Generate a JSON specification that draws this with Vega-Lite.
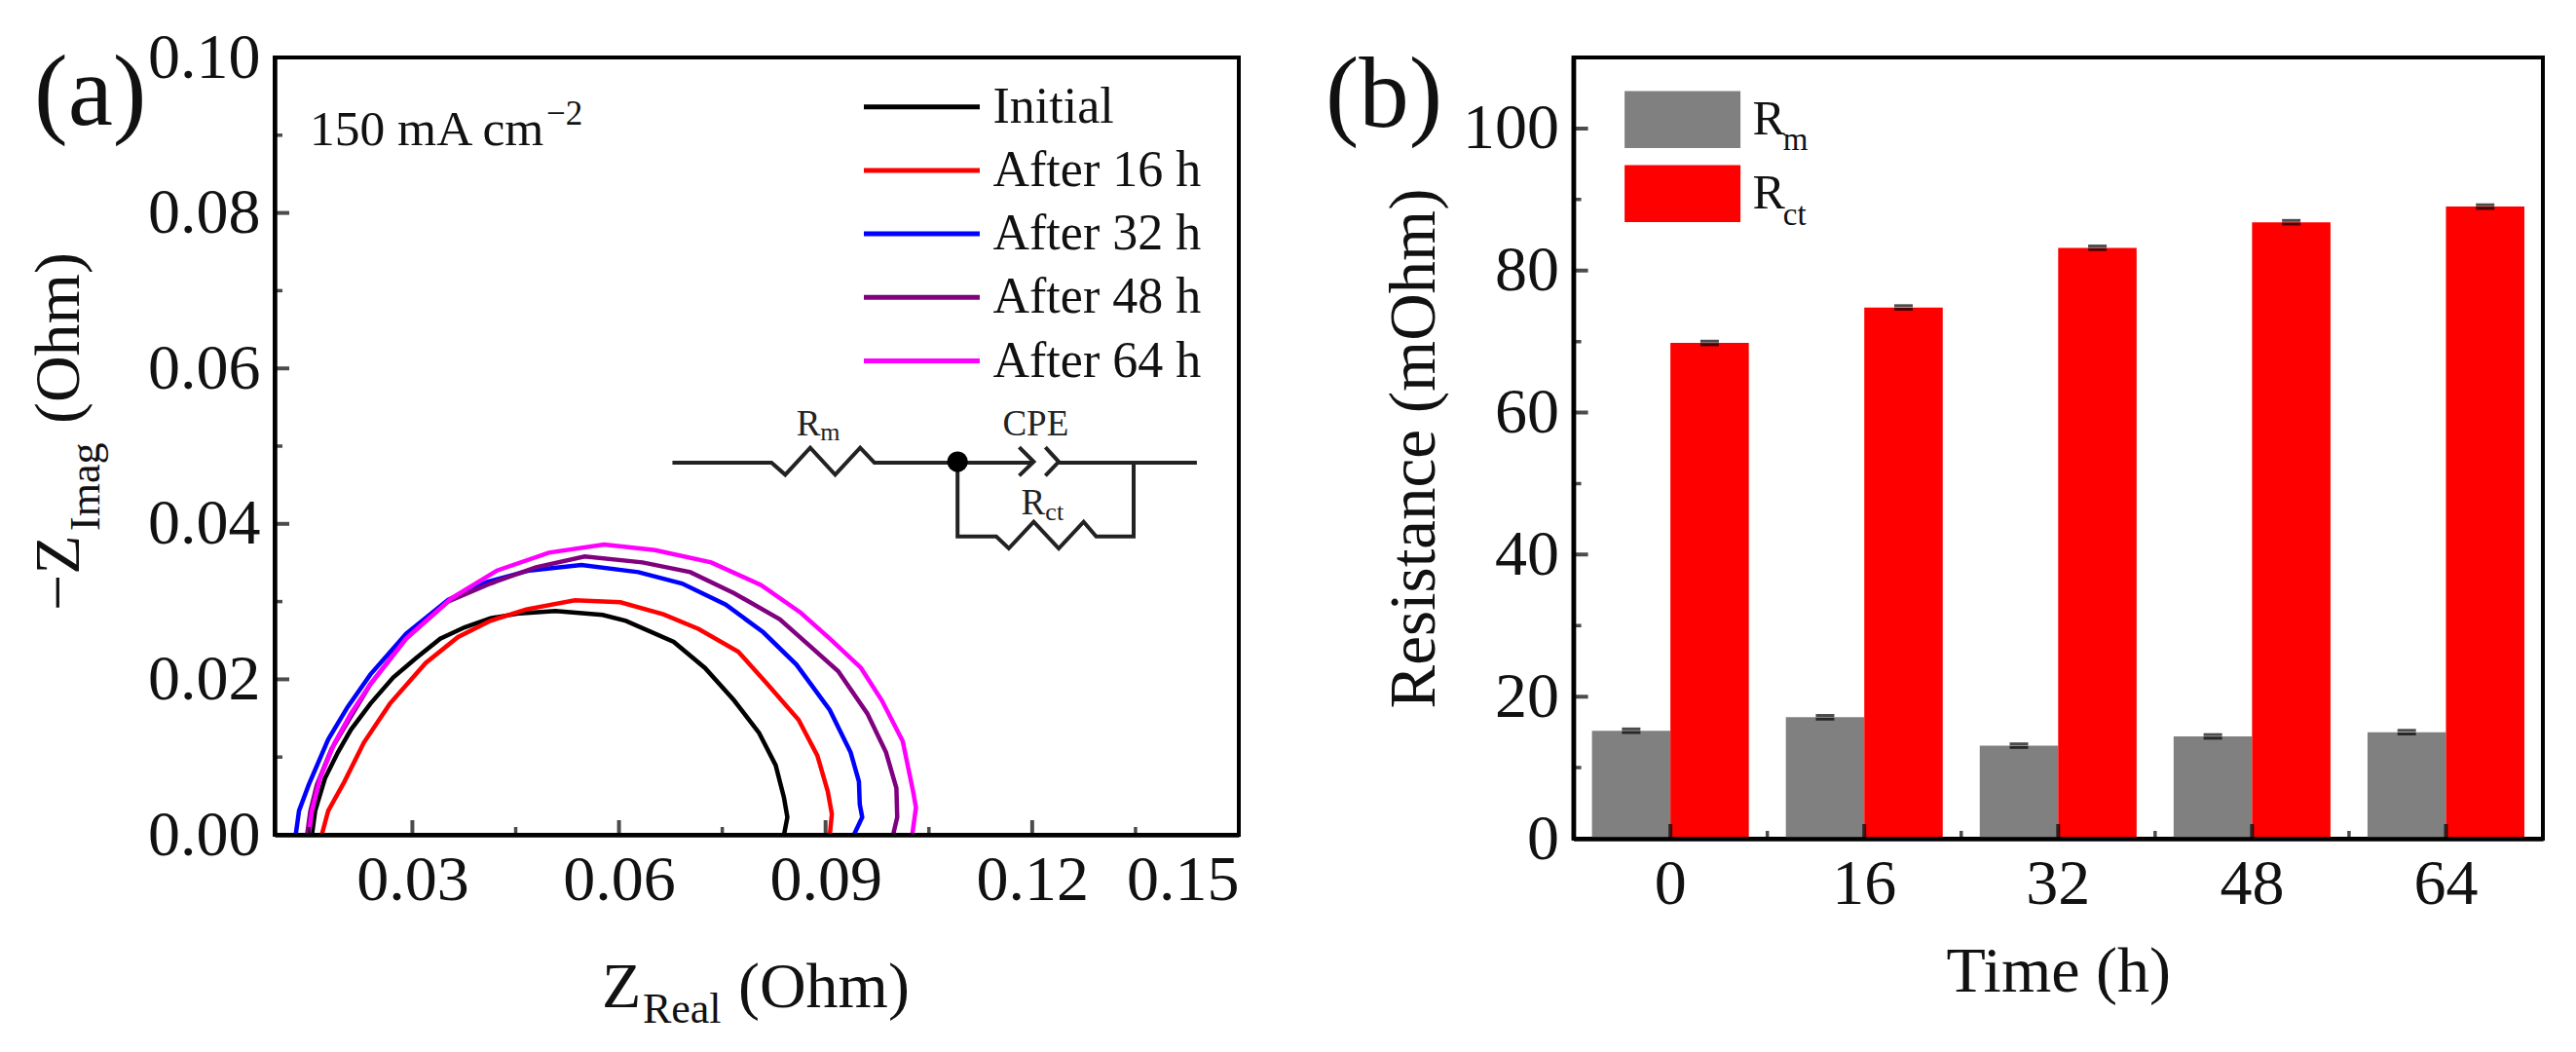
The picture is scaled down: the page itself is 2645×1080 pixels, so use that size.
{"$schema":"https://vega.github.io/schema/vega-lite/v6.json","background":"white","padding":{"left":26,"top":24,"right":0,"bottom":0},"bounds":"flush","spacing":343.6,"resolve":{"scale":{"color":"independent"},"legend":{"color":"independent"}},"config":{"font":"Liberation Serif","axis":{"grid":false,"domainColor":"black","domainWidth":4.5,"ticks":false,"tickSize":0,"labelColor":"#111","labelFont":"Liberation Serif","labelFontSize":66,"titleFont":"Liberation Serif","titleColor":"#111","titleFontWeight":"normal"},"legend":{"labelFont":"Liberation Serif","labelColor":"#111"},"view":{"stroke":"black","strokeWidth":4}},"hconcat":[{"width":990,"height":798,"encoding":{"x":{"field":"x","type":"quantitative","scale":{"domain":[0.01,0.15]},"axis":{"values":[0.03,0.06,0.09,0.12,0.15],"format":".2f","title":null,"labelPadding":14,"zindex":1}},"y":{"field":"y","type":"quantitative","scale":{"domain":[0,0.1]},"axis":{"values":[0,0.02,0.04,0.06,0.08,0.1],"format":".2f","title":null,"labelPadding":15,"zindex":1}}},"layer":[{"data":{"values":[{"s":"Initial","i":0,"x":0.01542,"y":0},{"s":"Initial","i":1,"x":0.01589,"y":0.00309},{"s":"Initial","i":2,"x":0.01731,"y":0.00727},{"s":"Initial","i":3,"x":0.01919,"y":0.01061},{"s":"Initial","i":4,"x":0.02108,"y":0.01353},{"s":"Initial","i":5,"x":0.02391,"y":0.01687},{"s":"Initial","i":6,"x":0.02721,"y":0.02022},{"s":"Initial","i":7,"x":0.03051,"y":0.02272},{"s":"Initial","i":8,"x":0.03404,"y":0.02523},{"s":"Initial","i":9,"x":0.03758,"y":0.02669},{"s":"Initial","i":10,"x":0.04135,"y":0.02786},{"s":"Initial","i":11,"x":0.04559,"y":0.02849},{"s":"Initial","i":12,"x":0.05078,"y":0.02878},{"s":"Initial","i":13,"x":0.05761,"y":0.02828},{"s":"Initial","i":14,"x":0.061,"y":0.02752},{"s":"Initial","i":15,"x":0.06795,"y":0.02481},{"s":"Initial","i":16,"x":0.07248,"y":0.02147},{"s":"Initial","i":17,"x":0.07671,"y":0.01729},{"s":"Initial","i":18,"x":0.08034,"y":0.01311},{"s":"Initial","i":19,"x":0.08275,"y":0.00894},{"s":"Initial","i":20,"x":0.08396,"y":0.00476},{"s":"Initial","i":21,"x":0.08445,"y":0.00225},{"s":"Initial","i":22,"x":0.08396,"y":0},{"s":"After 16 h","i":0,"x":0.01684,"y":0},{"s":"After 16 h","i":1,"x":0.01778,"y":0.00309},{"s":"After 16 h","i":2,"x":0.02014,"y":0.00685},{"s":"After 16 h","i":3,"x":0.02296,"y":0.01186},{"s":"After 16 h","i":4,"x":0.02674,"y":0.01687},{"s":"After 16 h","i":5,"x":0.03192,"y":0.0221},{"s":"After 16 h","i":6,"x":0.03663,"y":0.02544},{"s":"After 16 h","i":7,"x":0.04135,"y":0.02753},{"s":"After 16 h","i":8,"x":0.04653,"y":0.02899},{"s":"After 16 h","i":9,"x":0.0536,"y":0.03016},{"s":"After 16 h","i":10,"x":0.0602,"y":0.02991},{"s":"After 16 h","i":11,"x":0.06644,"y":0.02836},{"s":"After 16 h","i":12,"x":0.07157,"y":0.02648},{"s":"After 16 h","i":13,"x":0.07731,"y":0.02356},{"s":"After 16 h","i":14,"x":0.08154,"y":0.01938},{"s":"After 16 h","i":15,"x":0.08608,"y":0.01478},{"s":"After 16 h","i":16,"x":0.0888,"y":0.01019},{"s":"After 16 h","i":17,"x":0.09031,"y":0.0056},{"s":"After 16 h","i":18,"x":0.09091,"y":0.00267},{"s":"After 16 h","i":19,"x":0.09061,"y":0},{"s":"After 32 h","i":0,"x":0.01306,"y":0},{"s":"After 32 h","i":1,"x":0.01354,"y":0.00309},{"s":"After 32 h","i":2,"x":0.01495,"y":0.00643},{"s":"After 32 h","i":3,"x":0.01636,"y":0.00936},{"s":"After 32 h","i":4,"x":0.01778,"y":0.01228},{"s":"After 32 h","i":5,"x":0.02061,"y":0.01646},{"s":"After 32 h","i":6,"x":0.02391,"y":0.02063},{"s":"After 32 h","i":7,"x":0.02909,"y":0.02585},{"s":"After 32 h","i":8,"x":0.03522,"y":0.03024},{"s":"After 32 h","i":9,"x":0.04088,"y":0.03254},{"s":"After 32 h","i":10,"x":0.047,"y":0.034},{"s":"After 32 h","i":11,"x":0.05455,"y":0.03471},{"s":"After 32 h","i":12,"x":0.06281,"y":0.03379},{"s":"After 32 h","i":13,"x":0.06916,"y":0.03233},{"s":"After 32 h","i":14,"x":0.0755,"y":0.02961},{"s":"After 32 h","i":15,"x":0.08094,"y":0.02606},{"s":"After 32 h","i":16,"x":0.08577,"y":0.02189},{"s":"After 32 h","i":17,"x":0.09061,"y":0.01604},{"s":"After 32 h","i":18,"x":0.09363,"y":0.01061},{"s":"After 32 h","i":19,"x":0.09484,"y":0.00685},{"s":"After 32 h","i":20,"x":0.09496,"y":0.00392},{"s":"After 32 h","i":21,"x":0.09532,"y":0.00225},{"s":"After 32 h","i":22,"x":0.09411,"y":0},{"s":"After 48 h","i":0,"x":0.01471,"y":0},{"s":"After 48 h","i":1,"x":0.01519,"y":0.00309},{"s":"After 48 h","i":2,"x":0.01613,"y":0.00643},{"s":"After 48 h","i":3,"x":0.01825,"y":0.01103},{"s":"After 48 h","i":4,"x":0.02108,"y":0.0152},{"s":"After 48 h","i":5,"x":0.02391,"y":0.01938},{"s":"After 48 h","i":6,"x":0.02909,"y":0.02523},{"s":"After 48 h","i":7,"x":0.03522,"y":0.03003},{"s":"After 48 h","i":8,"x":0.04135,"y":0.03233},{"s":"After 48 h","i":9,"x":0.04795,"y":0.03442},{"s":"After 48 h","i":10,"x":0.05502,"y":0.0358},{"s":"After 48 h","i":11,"x":0.06341,"y":0.03504},{"s":"After 48 h","i":12,"x":0.07036,"y":0.03379},{"s":"After 48 h","i":13,"x":0.07671,"y":0.03108},{"s":"After 48 h","i":14,"x":0.08336,"y":0.02773},{"s":"After 48 h","i":15,"x":0.08759,"y":0.02439},{"s":"After 48 h","i":16,"x":0.09182,"y":0.02105},{"s":"After 48 h","i":17,"x":0.09605,"y":0.01562},{"s":"After 48 h","i":18,"x":0.09877,"y":0.01061},{"s":"After 48 h","i":19,"x":0.10028,"y":0.00601},{"s":"After 48 h","i":20,"x":0.1004,"y":0.00225},{"s":"After 48 h","i":21,"x":0.0998,"y":0},{"s":"After 64 h","i":0,"x":0.01495,"y":0},{"s":"After 64 h","i":1,"x":0.01542,"y":0.00309},{"s":"After 64 h","i":2,"x":0.0166,"y":0.00727},{"s":"After 64 h","i":3,"x":0.01872,"y":0.01186},{"s":"After 64 h","i":4,"x":0.02108,"y":0.01562},{"s":"After 64 h","i":5,"x":0.02391,"y":0.01938},{"s":"After 64 h","i":6,"x":0.02909,"y":0.02523},{"s":"After 64 h","i":7,"x":0.03569,"y":0.03045},{"s":"After 64 h","i":8,"x":0.04229,"y":0.034},{"s":"After 64 h","i":9,"x":0.04983,"y":0.0363},{"s":"After 64 h","i":10,"x":0.05785,"y":0.03734},{"s":"After 64 h","i":11,"x":0.06523,"y":0.03663},{"s":"After 64 h","i":12,"x":0.07339,"y":0.03504},{"s":"After 64 h","i":13,"x":0.08064,"y":0.03212},{"s":"After 64 h","i":14,"x":0.08638,"y":0.02857},{"s":"After 64 h","i":15,"x":0.09061,"y":0.02523},{"s":"After 64 h","i":16,"x":0.09514,"y":0.02147},{"s":"After 64 h","i":17,"x":0.09816,"y":0.01729},{"s":"After 64 h","i":18,"x":0.10119,"y":0.01207},{"s":"After 64 h","i":19,"x":0.1027,"y":0.0056},{"s":"After 64 h","i":20,"x":0.10312,"y":0.00351},{"s":"After 64 h","i":21,"x":0.10258,"y":0}]},"mark":{"type":"line","strokeWidth":4.5,"interpolate":"linear"},"encoding":{"order":{"field":"i","type":"quantitative"},"color":{"field":"s","type":"nominal","sort":["Initial","After 16 h","After 32 h","After 48 h","After 64 h"],"scale":{"domain":["Initial","After 16 h","After 32 h","After 48 h","After 64 h"],"range":["#000000","#ff0000","#0000ff","#800080","#ff00ff"]},"legend":{"title":null,"orient":"none","legendX":638.5,"legendY":24.7,"symbolType":"M-3,0L3,0","symbolSize":1573,"symbolStrokeWidth":5,"labelFontSize":52,"labelOffset":47,"rowPadding":13.2,"padding":0,"labelLimit":500}}}},{"data":{"values":[{"x":0.01,"y":0.01},{"x":0.01,"y":0.03},{"x":0.01,"y":0.05},{"x":0.01,"y":0.07},{"x":0.01,"y":0.09}]},"mark":{"type":"tick","orient":"horizontal","size":16,"thickness":3.5,"color":"black","clip":true}},{"data":{"values":[{"x":0.01,"y":0.02},{"x":0.01,"y":0.04},{"x":0.01,"y":0.06},{"x":0.01,"y":0.08}]},"mark":{"type":"tick","orient":"horizontal","size":30,"thickness":4,"color":"black","clip":true}},{"data":{"values":[{"x":0.015,"y":0},{"x":0.045,"y":0},{"x":0.075,"y":0},{"x":0.105,"y":0},{"x":0.135,"y":0}]},"mark":{"type":"tick","orient":"vertical","size":16,"thickness":3.5,"color":"black","clip":true}},{"data":{"values":[{"x":0.03,"y":0},{"x":0.06,"y":0},{"x":0.09,"y":0},{"x":0.12,"y":0}]},"mark":{"type":"tick","orient":"vertical","size":30,"thickness":4,"color":"black","clip":true}},{"data":{"values":[{"g":"main1","i":0,"x":0.06776,"y":0.04787},{"g":"main1","i":1,"x":0.08215,"y":0.04787},{"g":"main1","i":2,"x":0.08414,"y":0.04632},{"g":"main1","i":3,"x":0.08777,"y":0.04979},{"g":"main1","i":4,"x":0.09139,"y":0.04632},{"g":"main1","i":5,"x":0.09502,"y":0.04979},{"g":"main1","i":6,"x":0.09708,"y":0.04787},{"g":"main1","i":7,"x":0.11992,"y":0.04787},{"g":"cap1","i":0,"x":0.11811,"y":0.04987},{"g":"cap1","i":1,"x":0.12022,"y":0.04799},{"g":"cap1","i":2,"x":0.11811,"y":0.0462},{"g":"cap2","i":0,"x":0.12191,"y":0.04987},{"g":"cap2","i":1,"x":0.12385,"y":0.04799},{"g":"cap2","i":2,"x":0.12191,"y":0.0462},{"g":"main2","i":0,"x":0.12385,"y":0.04787},{"g":"main2","i":1,"x":0.14391,"y":0.04787},{"g":"branch","i":0,"x":0.10916,"y":0.04799},{"g":"branch","i":1,"x":0.10916,"y":0.03838},{"g":"branch","i":2,"x":0.11478,"y":0.03838},{"g":"branch","i":3,"x":0.1166,"y":0.03684},{"g":"branch","i":4,"x":0.12022,"y":0.04026},{"g":"branch","i":5,"x":0.12385,"y":0.03684},{"g":"branch","i":6,"x":0.12747,"y":0.04026},{"g":"branch","i":7,"x":0.12929,"y":0.03838},{"g":"branch","i":8,"x":0.13473,"y":0.03838},{"g":"branch","i":9,"x":0.13473,"y":0.04787}]},"mark":{"type":"line","strokeWidth":4,"color":"#222"},"encoding":{"detail":{"field":"g","type":"nominal"},"order":{"field":"i","type":"quantitative"}}},{"data":{"values":[{"x":0.10916,"y":0.04799}]},"mark":{"type":"point","filled":true,"size":450,"color":"black","opacity":1}},{"data":{"values":[{"x":-0.02493,"y":0.09135,"t":"(a)"}]},"mark":{"type":"text","fontSize":104,"align":"left","baseline":"alphabetic","color":"#111"},"encoding":{"text":{"field":"t"}}},{"data":{"values":[{"x":0.01509,"y":0.08872,"t":"150 mA cm"}]},"mark":{"type":"text","fontSize":51.5,"align":"left","baseline":"alphabetic","color":"#111"},"encoding":{"text":{"field":"t"}}},{"data":{"values":[{"x":0.04945,"y":0.09135,"t":"−2"}]},"mark":{"type":"text","fontSize":35,"align":"left","baseline":"alphabetic","color":"#111"},"encoding":{"text":{"field":"t"}}},{"data":{"values":[{"x":0.0575,"y":-0.02213,"t":"Z"},{"x":0.07731,"y":-0.02213,"t":"(Ohm)"}]},"mark":{"type":"text","fontSize":66,"align":"left","baseline":"alphabetic","color":"#111"},"encoding":{"text":{"field":"t"}}},{"data":{"values":[{"x":0.06345,"y":-0.02419,"t":"Real"}]},"mark":{"type":"text","fontSize":44,"align":"left","baseline":"alphabetic","color":"#111"},"encoding":{"text":{"field":"t"}}},{"data":{"values":[{"x":-0.01842,"y":0.02882,"t":"−Z"},{"x":-0.01842,"y":0.05288,"t":"(Ohm)"}]},"mark":{"type":"text","fontSize":66,"align":"left","baseline":"alphabetic","angle":270,"color":"#111"},"encoding":{"text":{"field":"t"}}},{"data":{"values":[{"x":-0.01545,"y":0.0391,"t":"Imag"}]},"mark":{"type":"text","fontSize":44,"align":"left","baseline":"alphabetic","angle":270,"color":"#111"},"encoding":{"text":{"field":"t"}}},{"data":{"values":[{"x":0.08577,"y":0.05142,"t":"R"},{"x":0.11569,"y":0.05142,"t":"CPE"},{"x":0.11841,"y":0.04118,"t":"R"}]},"mark":{"type":"text","fontSize":37,"align":"left","baseline":"alphabetic","color":"#222"},"encoding":{"text":{"field":"t"}}},{"data":{"values":[{"x":0.08922,"y":0.05071,"t":"m"},{"x":0.12191,"y":0.04047,"t":"ct"}]},"mark":{"type":"text","fontSize":26,"align":"left","baseline":"alphabetic","color":"#222"},"encoding":{"text":{"field":"t"}}}]},{"width":995.4,"height":802,"resolve":{"scale":{"x":"independent","xOffset":"independent"},"axis":{"x":"independent"}},"encoding":{"y":{"field":"value","type":"quantitative","scale":{"domain":[0,110]},"axis":{"values":[0,20,40,60,80,100],"title":"Resistance (mOhm)","titleFontSize":67,"titlePadding":15,"labelPadding":15,"zindex":1}}},"layer":[{"data":{"name":"bars","values":[{"time":"0","series":"Rm","value":15.2,"low":14.95,"high":15.45},{"time":"16","series":"Rm","value":17.1,"low":16.85,"high":17.35},{"time":"32","series":"Rm","value":13.1,"low":12.85,"high":13.35},{"time":"48","series":"Rm","value":14.4,"low":14.15,"high":14.65},{"time":"64","series":"Rm","value":15.0,"low":14.75,"high":15.25},{"time":"0","series":"Rct","value":69.8,"low":69.55,"high":70.05},{"time":"16","series":"Rct","value":74.8,"low":74.55,"high":75.05},{"time":"32","series":"Rct","value":83.2,"low":82.95,"high":83.45},{"time":"48","series":"Rct","value":86.8,"low":86.55,"high":87.05},{"time":"64","series":"Rct","value":89.0,"low":88.75,"high":89.25}]},"mark":{"type":"bar"},"encoding":{"x":{"field":"time","type":"nominal","sort":["0","16","32","48","64"],"scale":{"domain":["0","16","32","48","64"],"paddingInner":0,"paddingOuter":0},"axis":{"title":"Time (h)","titleFontSize":66,"titlePadding":25,"labelAngle":0,"labelPadding":14,"zindex":1}},"xOffset":{"field":"series","type":"nominal","sort":["Rm","Rct"],"scale":{"domain":["Rm","Rct"],"paddingInner":0,"paddingOuter":0.236}},"color":{"field":"series","type":"nominal","sort":["Rm","Rct"],"scale":{"domain":["Rm","Rct"],"range":["#808080","#ff0000"]},"legend":{"title":null,"orient":"none","legendX":87,"legendY":38.7,"symbolType":"M-3,-1.474L3,-1.474L3,1.474L-3,1.474Z","symbolSize":1573,"symbolStrokeWidth":0,"symbolOpacity":1,"labelFontSize":50,"labelOffset":47,"labelExpr":"'R'","rowPadding":16,"padding":0}}}},{"data":{"name":"bars"},"mark":{"type":"tick","size":19,"thickness":3,"color":"black"},"encoding":{"x":{"field":"time","type":"nominal","sort":["0","16","32","48","64"],"scale":{"domain":["0","16","32","48","64"],"paddingInner":0,"paddingOuter":0},"axis":null},"xOffset":{"field":"series","type":"nominal","sort":["Rm","Rct"],"scale":{"domain":["Rm","Rct"],"paddingInner":0,"paddingOuter":0.236}},"y":{"field":"high","type":"quantitative"}}},{"data":{"name":"bars"},"mark":{"type":"tick","size":19,"thickness":3,"color":"black"},"encoding":{"x":{"field":"time","type":"nominal","sort":["0","16","32","48","64"],"scale":{"domain":["0","16","32","48","64"],"paddingInner":0,"paddingOuter":0},"axis":null},"xOffset":{"field":"series","type":"nominal","sort":["Rm","Rct"],"scale":{"domain":["Rm","Rct"],"paddingInner":0,"paddingOuter":0.236}},"y":{"field":"low","type":"quantitative"}}},{"data":{"values":[{"u":1,"value":0},{"u":2,"value":0},{"u":3,"value":0},{"u":4,"value":0}]},"mark":{"type":"tick","orient":"vertical","size":16,"thickness":3.5,"color":"black","clip":true},"encoding":{"x":{"field":"u","type":"quantitative","scale":{"domain":[0,5]},"axis":null}}},{"data":{"values":[{"u":0.5,"value":0},{"u":1.5,"value":0},{"u":2.5,"value":0},{"u":3.5,"value":0},{"u":4.5,"value":0}]},"mark":{"type":"tick","orient":"vertical","size":30,"thickness":4,"color":"black","clip":true},"encoding":{"x":{"field":"u","type":"quantitative","scale":{"domain":[0,5]},"axis":null}}},{"data":{"values":[{"u":0,"value":10},{"u":0,"value":30},{"u":0,"value":50},{"u":0,"value":70},{"u":0,"value":90}]},"mark":{"type":"tick","orient":"horizontal","size":16,"thickness":3.5,"color":"black","clip":true},"encoding":{"x":{"field":"u","type":"quantitative","scale":{"domain":[0,5]},"axis":null}}},{"data":{"values":[{"u":0,"value":20},{"u":0,"value":40},{"u":0,"value":60},{"u":0,"value":80},{"u":0,"value":100}]},"mark":{"type":"tick","orient":"horizontal","size":30,"thickness":4,"color":"black","clip":true},"encoding":{"x":{"field":"u","type":"quantitative","scale":{"domain":[0,5]},"axis":null}}},{"data":{"values":[{"u":-1.279,"value":100.2,"t":"(b)"}]},"mark":{"type":"text","fontSize":103,"align":"left","baseline":"alphabetic","color":"#111"},"encoding":{"x":{"field":"u","type":"quantitative","scale":{"domain":[0,5]},"axis":null},"text":{"field":"t"}}},{"data":{"values":[{"u":1.081,"value":96.94,"t":"m"},{"u":1.081,"value":86.38,"t":"ct"}]},"mark":{"type":"text","fontSize":33,"align":"left","baseline":"alphabetic","color":"#111"},"encoding":{"x":{"field":"u","type":"quantitative","scale":{"domain":[0,5]},"axis":null},"text":{"field":"t"}}}]}]}
